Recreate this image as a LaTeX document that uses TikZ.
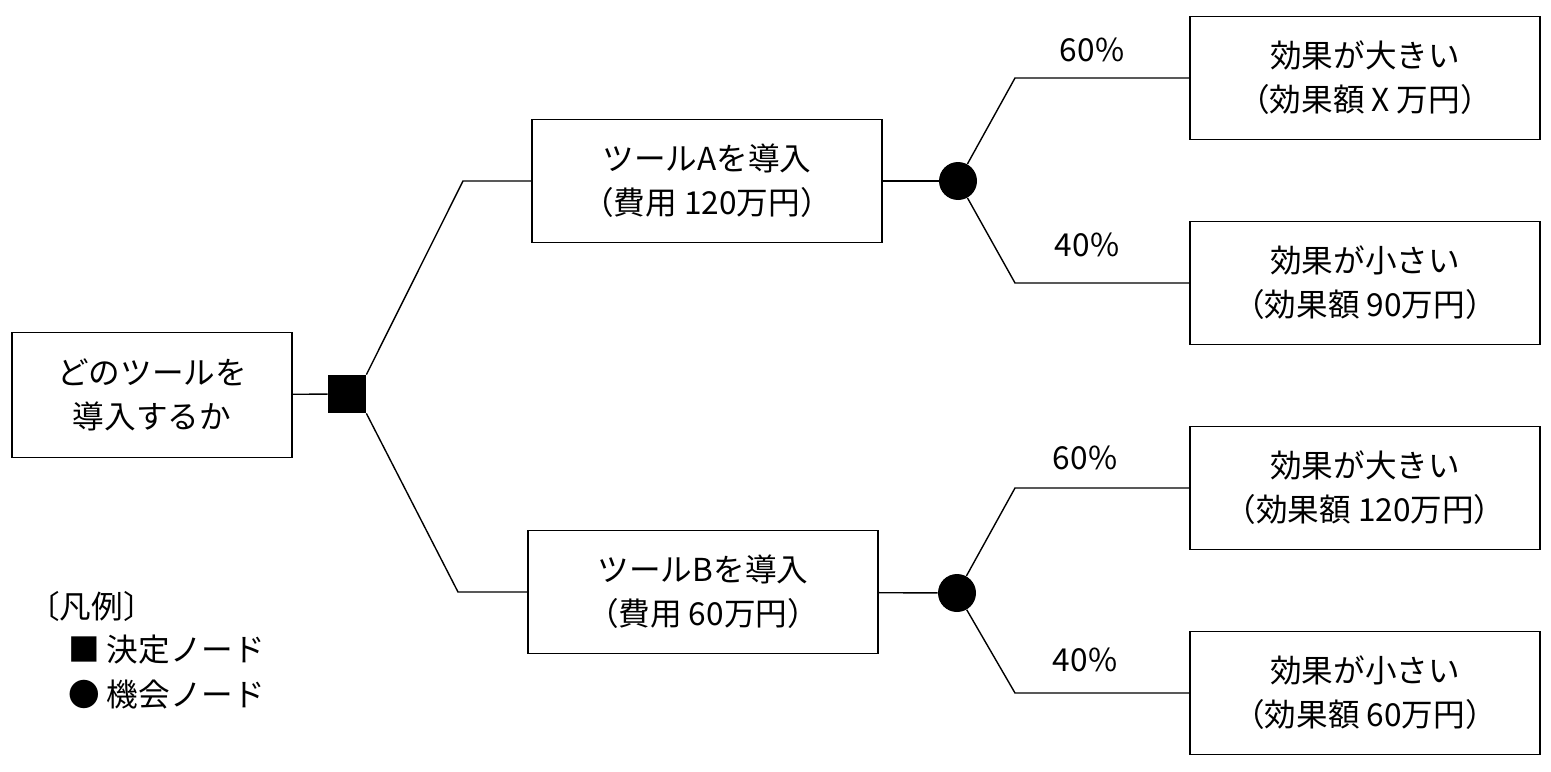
\documentclass[tikz,border=0pt]{standalone}
\usepackage{fontspec}
\setmainfont{Noto Sans CJK JP}
\usetikzlibrary{positioning}
\begin{document}
\begin{tikzpicture}[x=0.02cm,y=-0.02cm,font=\fontsize{18}{25}\selectfont]
\tikzstyle{boite}=[draw,thick,minimum width=7cm,minimum height=2.45cm,align=center,inner sep=2pt]
\tikzstyle{decision}=[fill=black,minimum size=0.76cm,inner sep=0pt]
\tikzstyle{hasard}=[fill=black,circle,minimum size=0.76cm,inner sep=0pt]
\tikzstyle{arc}=[-,thick]
\tikzstyle{proba}=[inner sep=1pt]

\useasboundingbox (0,0) rectangle (1551,771);

\node[boite,minimum width=5.6cm,minimum height=2.5cm] (racine) at (152,395) {どのツールを\\導入するか};
\node[decision] (choix) at (347,394) {};
\node[boite] (outilA) at (707,181) {ツールAを導入\\（費用 120万円）};
\node[boite] (outilB) at (703,592) {ツールBを導入\\（費用 60万円）};
\node[hasard] (chanceA) at (958,181) {};
\node[hasard] (chanceB) at (957,593) {};
\node[boite] (a1) at (1365,78) {効果が大きい\\（効果額 X 万円）};
\node[boite] (a2) at (1365,283) {効果が小さい\\（効果額 90万円）};
\node[boite] (b1) at (1365,488) {効果が大きい\\（効果額 120万円）};
\node[boite] (b2) at (1365,693) {効果が小さい\\（効果額 60万円）};

\coordinate (cA) at (463,181);
\coordinate (cB) at (458,592);
\coordinate (ca1) at (1015,78);
\coordinate (ca2) at (1015,283);
\coordinate (cb1) at (1015,488);
\coordinate (cb2) at (1015,693);

\draw[arc] (racine) -- (choix);
\draw[arc] (choix.north east) -- (cA) -- (outilA);
\draw[arc] (choix.south east) -- (cB) -- (outilB);
\draw[arc] (outilA) -- (chanceA);
\draw[arc] (outilB) -- (chanceB);
\draw[arc] (chanceA) -- (ca1) -- (a1);
\draw[arc] (chanceA) -- (ca2) -- (a2);
\draw[arc] (chanceB) -- (cb1) -- (b1);
\draw[arc] (chanceB) -- (cb2) -- (b2);

\node[proba] (pa1) at (1092,50) {60\%};
\node[proba] (pa2) at (1087,245) {40\%};
\node[proba] (pb1) at (1085,458) {60\%};
\node[proba] (pb2) at (1085,660) {40\%};

% legende
\node[anchor=west] (legende) at (22,606) {〔凡例〕};
\node[anchor=west] (ldec) at (62,650) {■ 決定ノード};
\node[anchor=west] (lhas) at (62,695) {● 機会ノード};

\end{tikzpicture}
\end{document}
